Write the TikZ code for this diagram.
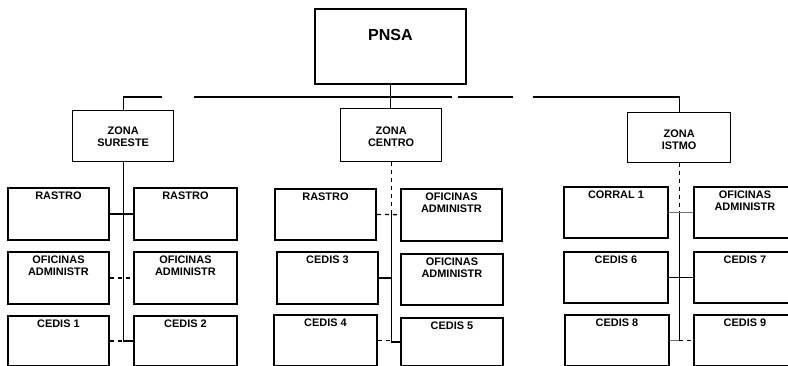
\documentclass[tikz,border=0pt]{standalone}
\usepackage{fontspec}
\setmainfont{Liberation Sans}
\newcommand\obox[6]{%
  \node[box,minimum width={(#4-#2)*0.75pt},minimum height={(#5-#3)*0.75pt}] (#1) at (#2,#3) {};
  \node[lbl] (#1t) at ([yshift=-3.6pt]#1.north) {#6};}
\begin{document}
\begin{tikzpicture}[x=0.75pt,y=-0.75pt,
  box/.style={draw,line width=1.4pt,inner sep=0pt,anchor=north west},
  zbox/.style={draw,line width=1pt,inner sep=0pt,anchor=north west},
  lbl/.style={inner sep=0pt,anchor=north,align=center,font=\bfseries\fontsize{8.2}{9}\selectfont},
  conn/.style={line width=1pt},
  faint/.style={line width=0.8pt,black!55},
  bus/.style={line width=1pt,dash pattern=on 39pt off 24pt on 193pt off 5pt on 41pt off 15pt on 200pt}]
\useasboundingbox (0,0) rectangle (788,366);
\clip (0,0) rectangle (788,366);
% top
\node[box,minimum width={151*0.75pt},minimum height={75*0.75pt}] (pnsa) at (314,8) {};
\node[inner sep=0pt,anchor=north,font=\bfseries\fontsize{12}{14}\selectfont] (pnsat) at ([yshift=-15.5pt]pnsa.north) {PNSA};
% zones
\node[zbox,minimum width={101*0.75pt},minimum height={51*0.75pt}] (sur) at (72,110) {};
\node[lbl] (surt) at ([yshift=-12.5pt]sur.north) {ZONA\\SURESTE};
\node[zbox,minimum width={101*0.75pt},minimum height={53*0.75pt}] (cen) at (340,108) {};
\node[lbl] (cent) at ([yshift=-14pt]cen.north) {ZONA\\CENTRO};
\node[zbox,minimum width={103*0.75pt},minimum height={50*0.75pt}] (ist) at (627,112) {};
\node[lbl] (istt) at ([yshift=-13.5pt]ist.north) {ZONA\\ISTMO};
% Sureste
\obox{sl1}{7}{187}{108}{239}{RASTRO}
\obox{sr1}{133}{187}{236}{239}{RASTRO}
\obox{sl2}{7}{251}{108}{303}{OFICINAS\\ADMINISTR}
\obox{sr2}{133}{251}{236}{303}{OFICINAS\\ADMINISTR}
\obox{sl3}{7}{315}{108}{365}{CEDIS 1}
\obox{sr3}{133}{315}{236}{365}{CEDIS 2}
% Centro
\obox{cl1}{274}{188}{375}{239}{RASTRO}
\obox{cr1}{400}{188}{501}{240}{OFICINAS\\ADMINISTR}
\obox{cl2}{276}{251}{377}{303}{CEDIS 3}
\obox{cr2}{400}{253}{502}{304}{OFICINAS\\ADMINISTR}
\obox{cl3}{273}{314}{376}{365}{CEDIS 4}
\obox{cr3}{400}{317}{502}{365}{CEDIS 5}
% Istmo
\obox{il1}{563}{186}{667}{237}{CORRAL 1}
\obox{ir1}{693}{186}{795}{237}{OFICINAS\\ADMINISTR}
\obox{il2}{563}{251}{667}{302}{CEDIS 6}
\obox{ir2}{693}{251}{795}{302}{CEDIS 7}
\obox{il3}{564}{314}{668}{365}{CEDIS 8}
\obox{ir3}{693}{314}{795}{365}{CEDIS 9}
% top connectors
\draw[conn] (pnsa.south) -- (pnsa.south |- cen.north);
\draw[bus] (sur.north) -- ++(0,-13) -| (ist.north);
% Sureste connectors
\coordinate (sbot) at (sur.south |- sl3.east);
\draw[conn] (sur.south) -- (sbot);
\draw[conn] (sl1.east) -- (sr1.west);
\draw[conn,dashed] (sl2.east) -- (sr2.west);
\draw[conn,dashed] (sl3.east) -- (sbot);
\draw[conn] (sbot) -- (sr3.west);
% Centro connectors
\coordinate (cj) at (cen.south |- cl1.east);
\coordinate (cbot) at (cen.south |- cl3.east);
\draw[conn,dashed] (cen.south) -- (cj);
\draw[conn] (cj) -- (cbot);
\draw[conn,dashed] (cl1.east) -- (cj) -- (cr1.west);
\draw[conn] (cl2.east) -- (cl2.east -| cj);
\draw[conn,dashed] (cl3.east) -- (cbot);
\draw[conn] (cbot) |- (cr3.west);
% Istmo connectors
\coordinate (ij) at (ist.south |- il1.east);
\coordinate (ibot) at (ist.south |- il3.east);
\draw[conn,dashed] (ist.south) -- (ij);
\draw[conn] (ij) -- (ibot);
\draw[faint] (il1.east) -- (ir1.west);
\draw[conn] (il2.east) -- (ir2.west);
\draw[faint] (il3.east) -- (ibot);
\draw[conn,dashed] (ibot) -- (ir3.west);
\end{tikzpicture}
\end{document}
